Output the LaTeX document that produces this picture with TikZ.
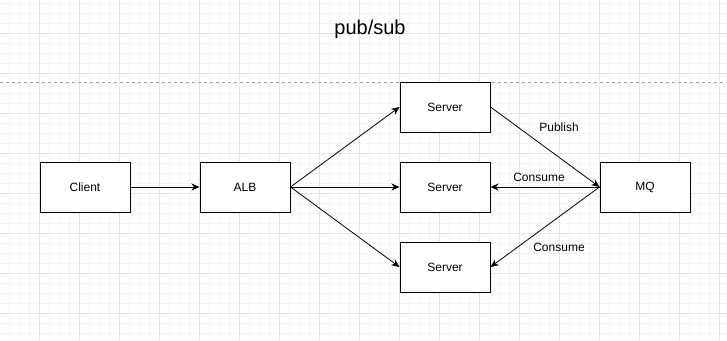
\documentclass[tikz,border=0pt]{standalone}
\usepackage{fontspec}
\setmainfont{Liberation Sans}
\usetikzlibrary{arrows.meta, positioning}
\tikzset{
    box/.style={draw=black, rectangle, minimum width=90pt, minimum height=50pt, inner sep=0pt, line width=1pt, fill=white, font=\fontsize{12}{14}\selectfont},
    link/.style={-{Stealth[length=8pt, width=7pt, inset=2.5pt]}, line width=0.8pt, draw=black},
    tag/.style={font=\fontsize{12}{14}\selectfont, inner sep=1pt},
    minorgrid/.style={draw=black!4, line width=0.5pt},
    majorgrid/.style={draw=black!11, line width=0.6pt}
}

\begin{document}
\begin{tikzpicture}[x=1pt, y=-1pt]

        \useasboundingbox (0,0) rectangle (727,340);
        \fill[white] (0,0) rectangle (727,340);

        % -----------------------------------------------------------------
        % GRID
        % -----------------------------------------------------------------
        \foreach \i in {0,...,73} {
            \draw[minorgrid] ({\i*10-0.7},0) -- ({\i*10-0.7},340);
        }
        \foreach \i in {0,...,34} {
            \draw[minorgrid] (0,{\i*10+3.3}) -- (727,{\i*10+3.3});
        }
        \foreach \i in {0,...,18} {
            \draw[majorgrid] ({\i*40-0.7},0) -- ({\i*40-0.7},340);
        }
        \foreach \i in {0,...,9} {
            \draw[majorgrid] (0,{\i*40-6.7}) -- (727,{\i*40-6.7});
        }

        % Title and separator
        \node[font=\fontsize{20}{24}\selectfont] (title) at (370,29) {pub/sub};
        \draw[black!35, dashed, line width=0.6pt] (0,82.3) -- (727,82.3);

        % -----------------------------------------------------------------
        % NODES
        % -----------------------------------------------------------------
        \node[box] (client) at (85,187) {Client};
        \node[box] (alb) at (245,187) {ALB};
        \node[box] (srvtop) at (445,107) {Server};
        \node[box] (srvmid) at (445,187) {Server};
        \node[box] (srvbot) at (445,267) {Server};
        \node[box] (mq) at (645,187) {MQ};

        % -----------------------------------------------------------------
        % CONNECTORS
        % -----------------------------------------------------------------
        \draw[link] (client.east) -- (alb.west);
        \draw[link] (alb.east) -- (srvtop.west);
        \draw[link] (alb.east) -- (srvmid.west);
        \draw[link] (alb.east) -- (srvbot.west);

        \draw[link] (srvtop.east) -- (mq.west);
        \draw[link] (mq.west) -- (srvmid.east);
        \draw[link] (mq.west) -- (srvbot.east);

        \node[tag] (publish) at (559,127) {Publish};
        \node[tag] (consume1) at (539,177) {Consume};
        \node[tag] (consume2) at (559,247) {Consume};

    \end{tikzpicture}
\end{document}
